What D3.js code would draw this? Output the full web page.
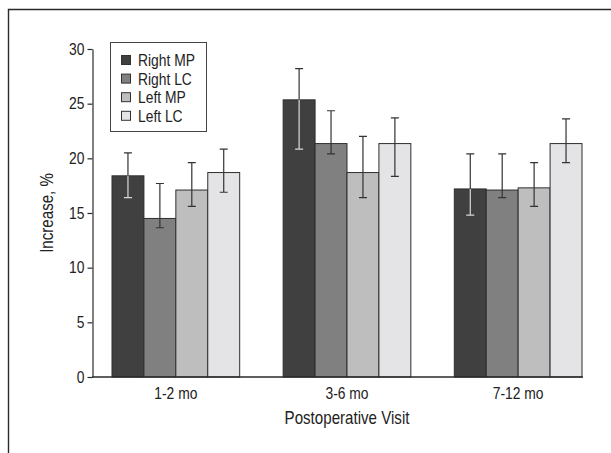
<!DOCTYPE html>
<html>
<head>
<meta charset="utf-8">
<script src="https://cdn.jsdelivr.net/npm/d3@7"></script>
<style>
  body { margin: 0; background: #fff; }
  svg text { font-family: "Liberation Sans", Arial, sans-serif; fill: #222; }
  /* la fuente original es condensada: se estrecha el texto en horizontal */
  .cond-mid { transform-box: fill-box; transform-origin: center; transform: scaleX(0.84); }
  .cond-end { transform-box: fill-box; transform-origin: right center; transform: scaleX(0.84); }
  .cond-start { transform-box: fill-box; transform-origin: left center; transform: scaleX(0.84); }
</style>
</head>
<body>
<div class="container-viewer"></div>
<script>
//* DATOS *//
const visits = ['1-2 mo', '3-6 mo', '7-12 mo'];
const series = ['Right MP', 'Right LC', 'Left MP', 'Left LC'];
const colors = ['#404040', '#808080', '#bebebe', '#e4e4e6'];
// valor medio de cada barra (fila = serie, columna = visita)
const rightMP = [18.4, 25.35, 17.2];
const rightLC = [14.5, 21.35, 17.1];
const leftMP = [17.1, 18.7, 17.3];
const leftLC = [18.7, 21.35, 21.35];
// extremos de las barras de error (no son simetricas)
const errHigh = [
	[20.5, 28.2, 20.4],
	[17.7, 24.35, 20.4],
	[19.6, 22.0, 19.6],
	[20.85, 23.7, 23.6],
];
const errLow = [
	[16.4, 20.85, 14.8],
	[13.65, 20.4, 16.4],
	[15.6, 16.4, 15.6],
	[16.9, 18.35, 19.6],
];
const yTicks = [0, 5, 10, 15, 20, 25, 30];

const values = [rightMP, rightLC, leftMP, leftLC];

//* SVG *//
const width = 611;
const height = 453;
const svg = d3.select('.container-viewer').append('svg').attr('width', width).attr('height', height);

// marco recortado (solo arriba e izquierda)
svg.append('path').attr('d', 'M8.5,453V9.5H611').attr('fill', 'none').attr('stroke', '#2a2a2a').attr('stroke-width', 1.4);

//* ESCALAS *//
const x = d3.scaleBand().domain(visits).range([112, 582]).paddingInner(0.254);
const xs = d3.scaleBand().domain(series).range([0, x.bandwidth()]);
const y = d3.scaleLinear().domain([0, 30]).range([377, 49]);

// filas planas para dibujar las barras
const rows = [];
series.forEach((s, i) => {
	visits.forEach((v, j) => {
		rows.push({ s, i, v, val: values[i][j], hi: errHigh[i][j], lo: errLow[i][j] });
	});
});

//* BARRAS *//
svg.append('g')
	.selectAll('rect')
	.data(rows)
	.join('rect')
	.attr('x', (d) => x(d.v) + xs(d.s))
	.attr('y', (d) => y(d.val))
	.attr('width', xs.bandwidth())
	.attr('height', (d) => y(0) - y(d.val))
	.attr('fill', (d) => colors[d.i])
	.attr('stroke', '#2e2e2e')
	.attr('stroke-width', 1);

//* BARRAS DE ERROR *//
const eb = svg.append('g').selectAll('g').data(rows).join('g')
	.attr('transform', (d) => `translate(${x(d.v) + xs(d.s) + xs.bandwidth() / 2},0)`);
const cap = 4;
// parte superior (fuera de la barra)
eb.append('path')
	.attr('d', (d) => `M0,${y(d.val)}V${y(d.hi)}M${-cap},${y(d.hi)}H${cap}`)
	.attr('fill', 'none').attr('stroke', '#333').attr('stroke-width', 1.2);
// parte inferior (dentro de la barra), clara sobre la barra oscura
eb.append('path')
	.attr('d', (d) => `M0,${y(d.val)}V${y(d.lo)}M${-cap},${y(d.lo)}H${cap}`)
	.attr('fill', 'none')
	.attr('stroke', (d) => (d.i === 0 ? '#d8d8d8' : '#333'))
	.attr('stroke-width', 1.2);

//* EJES *//
const yAxis = svg.append('g').attr('transform', 'translate(92.5,0)')
	.call(d3.axisLeft(y).tickValues(yTicks).tickSize(5).tickSizeOuter(0).tickPadding(3));
yAxis.selectAll('path, line').attr('stroke', '#2a2a2a').attr('stroke-width', 1.2);
yAxis.selectAll('text').attr('font-size', 16.5).style('font-family', null).attr('class', 'cond-end');

// linea base
svg.append('line').attr('x1', 92).attr('x2', 583).attr('y1', 377).attr('y2', 377)
	.attr('stroke', '#2a2a2a').attr('stroke-width', 1.4);

const xAxis = svg.append('g').attr('transform', 'translate(0,377)')
	.call(d3.axisBottom(x).tickSize(0).tickPadding(10));
xAxis.select('.domain').remove();
xAxis.selectAll('text').attr('font-size', 16.5).style('font-family', null).attr('class', 'cond-mid');

// titulos de los ejes
svg.append('text').attr('x', 347).attr('y', 424).attr('text-anchor', 'middle').attr('font-size', 18)
	.attr('class', 'cond-mid').text('Postoperative Visit');
svg.append('g').attr('transform', 'translate(47,213) rotate(-90)')
	.append('text').attr('text-anchor', 'middle').attr('dy', '0.36em').attr('font-size', 18)
	.attr('class', 'cond-mid').text('Increase, %');

//* LEYENDA *//
const legend = svg.append('g');
legend.append('rect').attr('x', 110.5).attr('y', 42.5).attr('width', 96).attr('height', 89)
	.attr('fill', '#fff').attr('stroke', '#444').attr('stroke-width', 1);
const item = legend.selectAll('g').data(series).join('g')
	.attr('transform', (d, i) => `translate(121,${60 + i * 18.6})`);
item.append('rect').attr('x', 0.5).attr('y', -4.5).attr('width', 9).attr('height', 9)
	.attr('fill', (d, i) => colors[i]).attr('stroke', '#333').attr('stroke-width', 1);
item.append('text').attr('x', 17).attr('dy', '0.36em').attr('font-size', 16.5)
	.attr('class', 'cond-start').text((d) => d);
</script>
</body>
</html>
